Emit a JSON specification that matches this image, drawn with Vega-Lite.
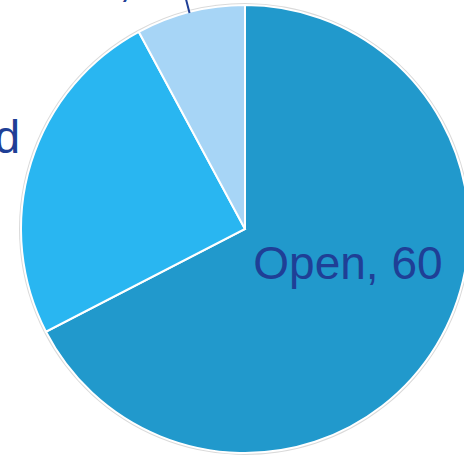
{
  "$schema": "https://vega.github.io/schema/vega-lite/v6.json",
  "width": 490,
  "height": 458,
  "autosize": "none",
  "padding": 0,
  "background": "white",
  "view": {"stroke": null},
  "datasets": {
    "slices": [
      {"category": "Open", "value": 60, "order": 1},
      {"category": "Closed", "value": 22, "order": 2},
      {"category": "Other", "value": 7, "order": 3}
    ],
    "labels": [
      {"label": "Open, 60", "t": 28.65, "r": 0.513},
      {"label": ["Closed", "22"], "t": 70.31, "r": 1.373},
      {"label": "Other, 7", "t": 80.60, "r": 1.26}
    ],
    "leader": [{"t": 85.44}]
  },
  "layer": [
    {
      "data": {"name": "slices"},
      "mark": {"type": "arc", "outerRadius": 226, "fill": "#dadada"},
      "encoding": {
        "theta": {"field": "value", "type": "quantitative", "stack": true, "scale": {"domain": [0, 89]}},
        "order": {"field": "order", "type": "quantitative"}
      }
    },
    {
      "data": {"name": "slices"},
      "mark": {"type": "arc", "outerRadius": 224, "stroke": "white", "strokeWidth": 2},
      "encoding": {
        "theta": {"field": "value", "type": "quantitative", "stack": true},
        "order": {"field": "order", "type": "quantitative"},
        "color": {
          "field": "category",
          "type": "nominal",
          "scale": {"domain": ["Open", "Closed", "Other"], "range": ["#2199CC", "#29B6F1", "#A7D5F6"]},
          "legend": null
        }
      }
    },
    {
      "data": {"name": "leader"},
      "mark": {"type": "arc", "innerRadius": 223, "outerRadius": 250, "stroke": "#1F3F96", "strokeWidth": 2, "fill": null},
      "encoding": {
        "theta": {"field": "t", "type": "quantitative", "stack": null},
        "theta2": {"field": "t"}
      }
    },
    {
      "data": {"name": "labels"},
      "mark": {"type": "text", "font": "Liberation Sans", "fontSize": 46, "color": "#1F3F96", "align": "center", "baseline": "alphabetic", "lineHeight": 52},
      "encoding": {
        "theta": {"field": "t", "type": "quantitative", "stack": null},
        "radius": {"field": "r", "type": "quantitative", "scale": {"type": "linear", "domain": [0, 1], "range": [0, 223], "zero": true}},
        "text": {"field": "label"}
      }
    }
  ]
}
